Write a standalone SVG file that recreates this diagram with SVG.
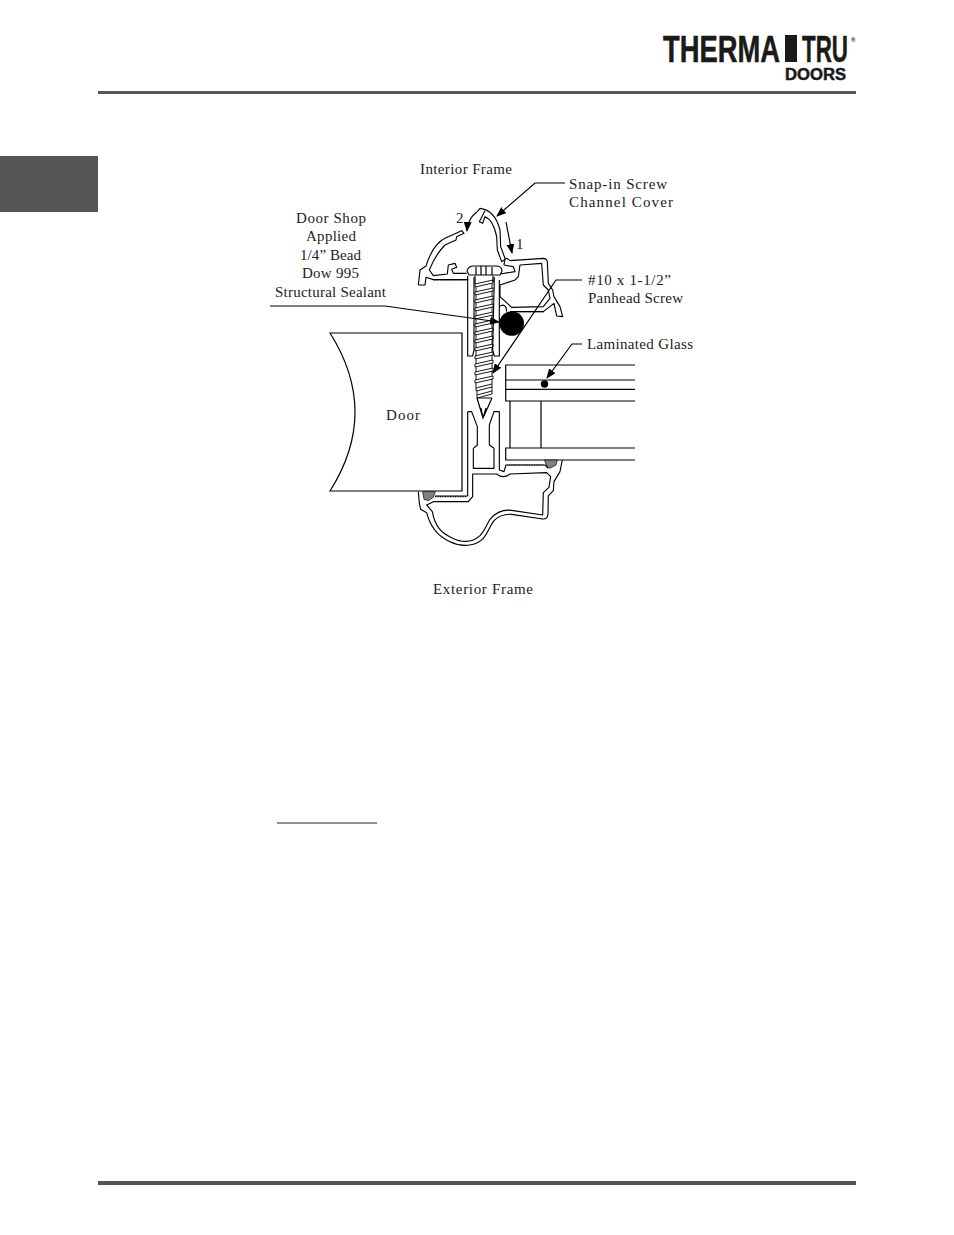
<svg xmlns="http://www.w3.org/2000/svg" width="954" height="1235" viewBox="0 0 954 1235">
<style>
.t{font-family:"Liberation Serif","Times New Roman",serif;font-size:15px;fill:#222}
.l{fill:none;stroke:#000;stroke-width:1.2}
.h{fill:#fff;stroke:#000;stroke-width:1.1;stroke-linejoin:round}
.th{fill:none;stroke:#000;stroke-width:.9}
.z{fill:none;stroke:#000;stroke-width:3.4;stroke-linejoin:round}
.s{fill:none;stroke:#000;stroke-width:3.4;stroke-dasharray:3 2}
.g{fill:#808080;stroke:#000;stroke-width:2}
.b{font-family:"Liberation Sans",Arial,sans-serif;font-weight:700;fill:#1a1a1a;stroke:#1a1a1a;stroke-width:.5}
</style>
<defs>
<marker id="a" markerWidth="10" markerHeight="8" refX="9" refY="4" orient="auto" markerUnits="userSpaceOnUse"><path d="M0,0L10,4L0,8Z" fill="#000"/></marker>
</defs>
<g id="page">
<rect x="98" y="91" width="758" height="3" fill="#555"/>
<rect x="98" y="1181" width="758" height="4" fill="#555"/>
<rect x="0" y="156" width="98" height="56" fill="#555"/>
<rect x="277" y="822.5" width="100" height="1" fill="#222"/>
</g>
<g id="logo">
<text class="b" x="663" y="62" font-size="37" textLength="117" lengthAdjust="spacingAndGlyphs">THERMA</text>
<rect x="785" y="35" width="12" height="27" fill="#1a1a1a"/>
<text class="b" x="802" y="62" font-size="37" textLength="46" lengthAdjust="spacingAndGlyphs">TRU</text>
<text class="b" x="851" y="42" font-size="6" style="stroke-width:0">®</text>
<text class="b" x="785" y="80" font-size="16" textLength="61" lengthAdjust="spacingAndGlyphs">DOORS</text>
</g>
<g id="door-node">
<path class="l" d="M330,333L462,333V491H330Q380,412 330,333Z"/>
<text class="t" x="386" y="420" textLength="34">Door</text>
</g>
<g id="glass">
<path class="l" d="M635,365H505.7V401H635M505.7,380H635M505.7,389.3H635M510,401V448M541,401V448M635,448H505.7V460H635"/>
<circle cx="544.5" cy="384" r="3.7"/>
</g>
<g id="lower-frame" transform="translate(400,370) scale(.3333)">
<path class="z" d="M55,365L58,400L62,418L80,428C92,475 115,500 150,515C185,532 225,530 250,505C265,488 268,470 282,452C298,435 315,432 335,433L428,447Q443,448 444,432L445,378L460,362L462,335L480,305L487,270"/>
<path class="z" d="M80,405L100,395H205L218,380V312H290Q310,328 330,312L440,308L452,320L447,352L430,368L428,435L335,421C305,418 285,430 270,448C258,468 255,482 240,497C215,520 185,518 155,503C125,490 105,470 97,425Z"/>
<path class="z" d="M203,125H215L232,170V225L220,235V295H282V235L268,225V165L282,125H298V300L312,305L318,285H435L445,295"/>
<path class="z" d="M203,125V378H105"/>
<path class="g" d="M68,365H106L100,382L85,392L72,388Z"/>
<path class="g" d="M433,270H472L468,285L450,295L440,287Z"/>
<path class="s" d="M105,380H200M322,285H432"/>
</g>
<g id="upper-frame" transform="translate(400,190) scale(.3333)">
<path class="z" d="M55,285L60,240L78,228C90,190 105,160 135,145L185,122L192,130L170,140L168,150L135,165C115,185 98,215 88,240L100,257L142,252L145,225L165,220L170,232L155,238L160,250H200"/>
<path class="z" d="M55,285H75L78,262L100,269H205"/>
<path class="z" d="M232,65L240,55Q285,60 300,120L302,170L315,205L312,225L340,230L345,245L300,252"/>
<path class="z" d="M255,62L238,95L248,100L255,80Q280,90 290,140L292,180L305,215L320,205L330,212L430,205Q440,205 442,215L445,280L458,300L462,320L480,350L488,380L470,378L462,340L430,365H330"/>
<path class="z" d="M360,225L425,220L430,285L445,300L450,325L430,350L335,352L300,320V285L345,270L355,260Z"/>
<path class="z" d="M203,258V498H218L222,480V262M298,270V498H283L278,480L283,262M298,350Q310,340 318,352L320,365"/>
<path class="s" d="M100,270H200M335,365H432"/>
</g>
<g id="screw">
<path class="h" d="M467,271Q468,266 474,266H496Q502,266 502,271L500,275H469Z"/>
<path class="l" d="M475,276V284M493,276V282M476,267V275M481,266V275M486,266V275M492,267V275M477,398L483,418L492,398M477,398H492M483,418L481,408M483,418L486,408"/>
<path class="th" d="M475,284L493,280V283L475,287ZM475,292L493,288V291L475,295ZM475,300L493,296V299L475,303ZM475,308L493,304V307L475,311ZM475,316L493,312V315L475,319ZM475,324L493,320V323L475,327ZM475,332L493,328V331L475,335ZM475,340L493,336V339L475,343ZM475,348L493,344V347L475,351ZM475,356L493,352V355L475,359ZM475,364L493,360V363L475,367ZM475,372L493,368V371L475,375ZM475,380L493,376V379L475,383ZM476,388L492,384V387L476,391ZM477,395L492,391V394L477,398Z"/>
<path class="th" d="M476,287V292M476,295V300M476,303V308M476,311V316M476,319V324M476,327V332M476,335V340M476,343V348M476,351V356M476,359V364M476,367V372M476,375V380M476,383V388M477,391V395M492,283V288M492,291V296M492,299V304M492,307V312M492,315V320M492,323V328M492,331V336M492,339V344M492,347V352M492,355V360M492,363V368M492,371V376M492,379V384M492,387V391"/>
<circle cx="511.7" cy="323.5" r="12.3"/>
</g>
<g id="connectors">
<path class="l" marker-end="url(#a)" d="M565,183H535L497,216"/>
<path class="l" marker-end="url(#a)" d="M270,306H385L499,322"/>
<path class="l" marker-end="url(#a)" d="M582,280H556L493,373"/>
<path class="l" marker-end="url(#a)" d="M582,344H572L547,378"/>
<path class="l" marker-end="url(#a)" d="M506,222L512,253"/>
<path class="l" marker-end="url(#a)" d="M477,212Q468,218 467,231"/>
</g>
<g id="labels">
<text class="t" x="420" y="174" textLength="92">Interior Frame</text>
<text class="t" x="569" y="189" textLength="98">Snap-in Screw</text>
<text class="t" x="569" y="207" textLength="104">Channel Cover</text>
<text class="t" x="296" y="223" textLength="70">Door Shop</text>
<text class="t" x="306" y="241" textLength="50">Applied</text>
<text class="t" x="300" y="260" textLength="61">1/4” Bead</text>
<text class="t" x="302" y="278" textLength="57">Dow 995</text>
<text class="t" x="275" y="297" textLength="111">Structural Sealant</text>
<text class="t" x="456" y="223">2</text>
<text class="t" x="516" y="249">1</text>
<text class="t" x="588" y="285" textLength="83">#10 x 1-1/2”</text>
<text class="t" x="588" y="303" textLength="95">Panhead Screw</text>
<text class="t" x="587" y="349" textLength="106">Laminated Glass</text>
<text class="t" x="433" y="594" textLength="100">Exterior Frame</text>
</g>
</svg>
